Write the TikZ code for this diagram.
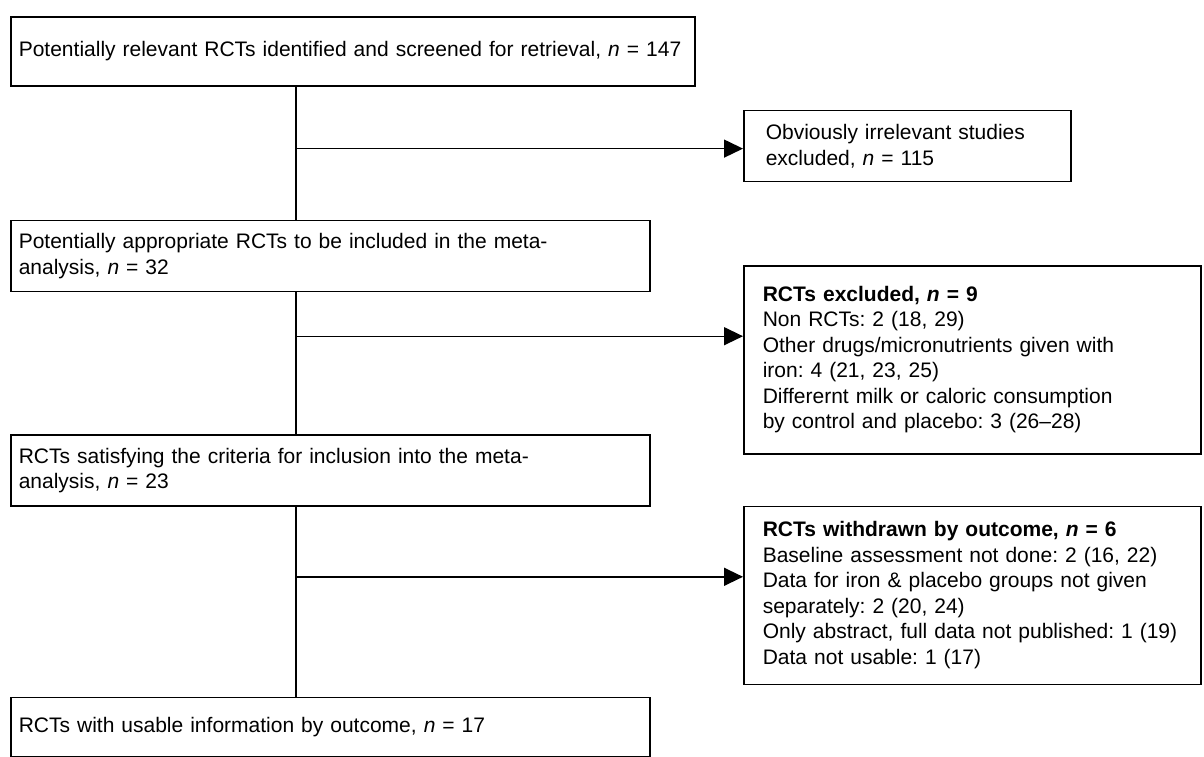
\documentclass[tikz,border=0pt]{standalone}
\usepackage{fontspec}
\setmainfont{Liberation Sans}
\usetikzlibrary{positioning,arrows.meta}
\frenchspacing

\begin{document}
\begin{tikzpicture}[font=\fontsize{10.5pt}{12.75pt}\selectfont]
  \tikzstyle{mainbox} = [rectangle, draw=black, line width=0.8pt, text width=311.5pt, inner xsep=4pt, align=left]
  \tikzstyle{sidebox} = [rectangle, draw=black, line width=0.8pt, inner xsep=11pt, align=left]
  \tikzstyle{trunk} = [line width=0.9pt]
  \tikzstyle{arrow} = [line width=0.7pt, ->, >={Triangle[length=9.5pt,width=9pt]}]

  \useasboundingbox (0,0) rectangle (602pt,-378pt);

  % main column
  \node (scr) [mainbox, text width=334pt, anchor=north west, minimum height=34.5pt] at (5pt,-8pt) {Potentially relevant RCTs identified and screened for retrieval, \textit{n} = 147};
  \node (appr) [mainbox, below=66.5pt of scr.south west, anchor=north west, minimum height=35.5pt] {Potentially appropriate RCTs to be included in the meta-\\analysis, \textit{n} = 32};
  \node (sat) [mainbox, below=71pt of appr, minimum height=35.5pt] {RCTs satisfying the criteria for inclusion into the meta-\\analysis, \textit{n} = 23};
  \node (usable) [mainbox, below=95pt of sat, minimum height=29.5pt] {RCTs with usable information by outcome, \textit{n} = 17};
  \draw [trunk] ([xshift=143pt]scr.south west) -- ([xshift=143pt]appr.north west);
  \draw [trunk] ([xshift=143pt]appr.south west) -- ([xshift=143pt]sat.north west);
  \draw [trunk] ([xshift=143pt]sat.south west) -- ([xshift=143pt]usable.north west);

  % exclusions on the right
  \coordinate (b1) at ([xshift=143pt,yshift=-31pt]scr.south west);
  \node (obv) [sidebox, text width=141.5pt, right=223.5pt of b1, yshift=1.25pt, minimum height=35.5pt] {Obviously irrelevant studies\\excluded, \textit{n} = 115};
  \draw [arrow] (b1) -- (b1 -| obv.west);

  \coordinate (b2) at ([xshift=143pt,yshift=-22pt]appr.south west);
  \node (excl) [sidebox, text width=209.5pt, inner xsep=9.5pt, right=223.5pt of b2, yshift=-11.75pt, minimum height=94pt] {\textbf{RCTs excluded, \textit{n} = 9}\\Non RCTs: 2 (18, 29)\\Other drugs/micronutrients given with\\iron: 4 (21, 23, 25)\\Differernt milk or caloric consumption\\by control and placebo: 3 (26--28)};
  \draw [arrow] (b2) -- (b2 -| excl.west);

  \coordinate (b3) at ([xshift=143pt,yshift=-35pt]sat.south west);
  \node (withd) [sidebox, text width=209.5pt, inner xsep=9.5pt, right=223.5pt of b3, yshift=-9.25pt, minimum height=89pt] {\textbf{RCTs withdrawn by outcome, \textit{n} = 6}\\Baseline assessment not done: 2 (16, 22)\\Data for iron \& placebo groups not given\\separately: 2 (20, 24)\\Only abstract, full data not published: 1 (19)\\Data not usable: 1 (17)};
  \draw [arrow] (b3) -- (b3 -| withd.west);
\end{tikzpicture}
\end{document}
